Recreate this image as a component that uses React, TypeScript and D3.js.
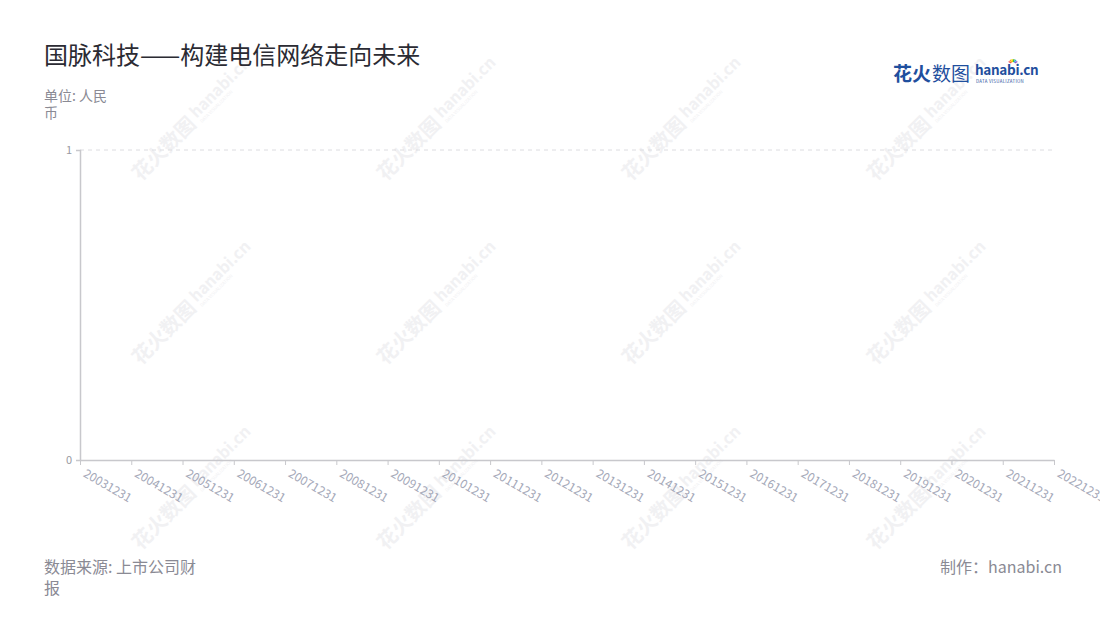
import React, { useRef, useEffect } from "react";
import * as d3 from "d3";

const TITLE = "国脉科技——构建电信网络走向未来";
const UNIT_LINES = ["单位: 人民", "币"];
const SOURCE_LINES = ["数据来源: 上市公司财", "报"];
const CREDIT = "制作：hanabi.cn";

const DATES = [
  "20031231", "20041231", "20051231", "20061231", "20071231",
  "20081231", "20091231", "20101231", "20111231", "20121231",
  "20131231", "20141231", "20151231", "20161231", "20171231",
  "20181231", "20191231", "20201231", "20211231", "20221231",
];
// no values are shown in the chart
const VALUES: (number | null)[] = DATES.map(() => null);
const Y_TICKS = [0, 1];

const WM_X = [183, 428, 673, 918];
const WM_Y = [128, 312, 497];

const FONT = "'Noto Sans CJK SC', 'Noto Sans', sans-serif";
const W = 1100;
const H = 620;

export default function App() {
  const svgRef = useRef<SVGSVGElement>(null);

  useEffect(() => {
    if (!svgRef.current) return;
    const svg = d3.select(svgRef.current);
    svg.selectAll("*").remove();
    svg.style("font-family", FONT);

    const left = 80, right = 1054, top = 150, bottom = 460;

    // 水印
    const wm = svg.append("g").attr("pointer-events", "none");
    WM_Y.forEach((cy) => {
      WM_X.forEach((cx) => {
        const g = wm.append("g").attr("transform", `translate(${cx},${cy}) rotate(-45)`);
        g.append("text")
          .attr("x", -68).attr("y", 8)
          .style("font-size", "20px").style("font-weight", "bold")
          .style("fill", "#f1f1f3")
          .text("花火数图");
        g.append("text")
          .attr("x", 16).attr("y", 3)
          .style("font-size", "16px").style("font-weight", "bold")
          .style("fill", "#f1f1f3")
          .text("hanabi.cn");
        g.append("text")
          .attr("x", 17).attr("y", 10)
          .style("font-size", "4.5px")
          .style("fill", "#f1f1f3")
          .text("DATA VISUALIZATION");
      });
    });

    // 标题
    svg.append("text")
      .attr("x", 44).attr("y", 64)
      .style("font-size", "24px").style("fill", "#2b2b33")
      .text(TITLE);

    UNIT_LINES.forEach((t, i) => {
      svg.append("text")
        .attr("x", 44).attr("y", 101 + i * 17)
        .style("font-size", "14px").style("fill", "#8a8a94")
        .text(t);
    });

    // logo
    const logo = svg.append("g");
    logo.append("text").attr("x", 893).attr("y", 81)
      .style("font-size", "19px").style("fill", "#1f4f9e")
      .style("font-weight", "bold").text("花火");
    logo.append("text").attr("x", 932).attr("y", 81)
      .style("font-size", "19px").style("fill", "#1f4f9e").text("数图");
    logo.append("text").attr("x", 975).attr("y", 75)
      .style("font-size", "13.5px").style("fill", "#1f4f9e")
      .style("font-weight", "bold").style("letter-spacing", "-0.3px")
      .text("hanabi.cn");
    logo.append("text").attr("x", 976).attr("y", 82.5)
      .style("font-size", "4.4px").style("fill", "#1f4f9e")
      .style("letter-spacing", "0.3px").text("DATA VISUALIZATION");
    const sparkColors = ["#f04e4e", "#f7a21b", "#f5d800", "#3cb54a", "#2aa8e0", "#8e4fc9"];
    sparkColors.forEach((c, i) => {
      const a = (-150 + i * 24) * Math.PI / 180;
      logo.append("line")
        .attr("x1", 1013 + Math.cos(a) * 2).attr("y1", 64 + Math.sin(a) * 2)
        .attr("x2", 1013 + Math.cos(a) * 5).attr("y2", 64 + Math.sin(a) * 5)
        .attr("stroke", c).attr("stroke-width", 1.4);
    });

    // 比例尺
    const x = d3.scalePoint<string>().domain(DATES).range([left, right]);
    const y = d3.scaleLinear().domain([0, 1]).range([bottom, top]);

    // 网格线
    svg.append("g")
      .selectAll("line")
      .data(Y_TICKS.filter((d) => d !== 0))
      .join("line")
      .attr("x1", left).attr("x2", right)
      .attr("y1", (d) => y(d)).attr("y2", (d) => y(d))
      .attr("stroke", "#dcdce0").attr("stroke-dasharray", "4,4");

    // Y轴
    const yAxis = svg.append("g")
      .attr("transform", `translate(${left},0)`)
      .call(d3.axisLeft(y).tickValues(Y_TICKS).tickFormat(d3.format("d")).tickSize(4).tickPadding(4));
    yAxis.select(".domain").attr("stroke", "#c8c8cc").attr("stroke-width", 1.5);
    yAxis.selectAll(".tick line").attr("stroke", "#c8c8cc");
    yAxis.selectAll("text").style("font-size", "11px").style("fill", "#9a9aa2").style("font-family", FONT);

    // X轴
    const xAxis = svg.append("g")
      .attr("transform", `translate(0,${bottom})`)
      .call(d3.axisBottom(x).tickSize(5).tickSizeOuter(0));
    xAxis.select(".domain").attr("stroke", "#c8c8cc").attr("stroke-width", 1.5);
    xAxis.selectAll(".tick line").attr("stroke", "#c8c8cc");
    xAxis.selectAll("text")
      .attr("text-anchor", "start")
      .attr("transform", "translate(2,16) rotate(30)")
      .attr("dy", "0")
      .attr("y", 0)
      .attr("x", 0)
      .style("font-size", "12px").style("fill", "#a4a8b8").style("font-family", FONT);

    // 数据线（无数值）
    const line = d3.line<number | null>()
      .defined((d) => d !== null)
      .x((_, i) => x(DATES[i]) as number)
      .y((d) => y(d as number));
    svg.append("path").datum(VALUES).attr("d", line).attr("fill", "none").attr("stroke", "#4a7bd0").attr("stroke-width", 2);

    // 页脚
    SOURCE_LINES.forEach((t, i) => {
      svg.append("text")
        .attr("x", 44).attr("y", 573 + i * 21)
        .style("font-size", "16px").style("fill", "#8a8a94")
        .text(t);
    });
    svg.append("text")
      .attr("x", 1062).attr("y", 573)
      .attr("text-anchor", "end")
      .style("font-size", "16px").style("fill", "#8a8a94")
      .text(CREDIT);
  }, []);

  return (
    <svg
      ref={svgRef}
      width={W}
      height={H}
      viewBox={`0 0 ${W} ${H}`}
      style={{ position: "absolute", left: 0, top: 0, background: "#fff" }}
    />
  );
}
